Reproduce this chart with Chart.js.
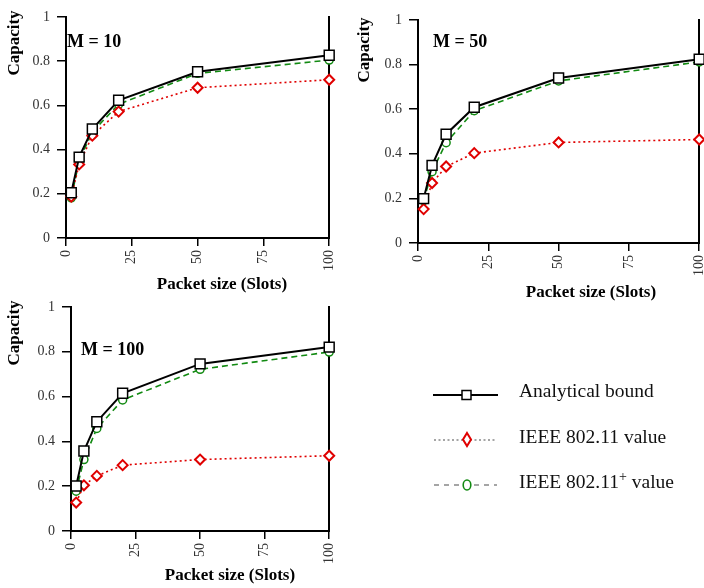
<!DOCTYPE html>
<html>
<head>
<meta charset="utf-8">
<script src="https://cdn.jsdelivr.net/npm/chart.js@4"></script>
<style>
  html, body { margin: 0; padding: 0; background: #fff; overflow: hidden; }
  #wrap { position: relative; width: 704px; height: 588px; overflow: hidden; }
  canvas { position: absolute; }
  #legend { position: absolute; left: 0; top: 0; width: 704px; height: 588px; pointer-events: none; }
  .lg { position: absolute; left: 519px; font: 19.5px "Liberation Serif", "Times New Roman", serif; color: #111; line-height: 20px; }
  .lg sup { font-size: 14px; line-height: 0; vertical-align: 7px; }
</style>
</head>
<body>
<div id="wrap">
  <canvas id="c10" width="350" height="300" style="left:0;top:0"></canvas>
  <canvas id="c50" width="370" height="310" style="left:350px;top:0"></canvas>
  <canvas id="c100" width="350" height="298" style="left:0;top:290px"></canvas>
  <svg id="legend" width="704" height="588">
    <line x1="433" y1="395" x2="498" y2="395" stroke="#000" stroke-width="2"/>
    <rect x="462" y="390.5" width="9" height="9" fill="#fff" stroke="#000" stroke-width="1.5"/>
    <line x1="434" y1="440" x2="497" y2="440" stroke="#888" stroke-width="1.3" stroke-dasharray="2,2.5"/>
    <polygon points="467,433 471,439.5 467,446 463,439.5" fill="#fff" stroke="#e00000" stroke-width="2"/>
    <line x1="434" y1="485" x2="497" y2="485" stroke="#888" stroke-width="1.3" stroke-dasharray="5,5"/>
    <ellipse cx="467" cy="485" rx="3.8" ry="5" fill="#fff" stroke="#128a12" stroke-width="1.6"/>
  </svg>
  <div class="lg" style="top:381px">Analytical bound</div>
  <div class="lg" style="top:427px">IEEE 802.11 value</div>
  <div class="lg" style="top:472px">IEEE 802.11<sup>+</sup> value</div>
</div>
<script>
// packet sizes (slots) on the x axis
const packetSizes = [2, 5, 10, 20, 50, 100];
const xTicks = [0, 25, 50, 75, 100];
const yTicks = [0, 0.2, 0.4, 0.6, 0.8, 1];

// M = 10
const analyticalM10 = [0.205, 0.366, 0.493, 0.623, 0.752, 0.827];
const ieeeM10 = [0.187, 0.333, 0.463, 0.572, 0.680, 0.716];
const ieeePlusM10 = [0.182, 0.350, 0.480, 0.605, 0.745, 0.805];

// M = 50
const analyticalM50 = [0.199, 0.348, 0.488, 0.609, 0.740, 0.824];
const ieeeM50 = [0.152, 0.269, 0.343, 0.403, 0.451, 0.464];
const ieeePlusM50 = [0.190, 0.320, 0.450, 0.593, 0.727, 0.812];

// M = 100
const analyticalM100 = [0.201, 0.357, 0.488, 0.615, 0.746, 0.821];
const ieeeM100 = [0.127, 0.204, 0.246, 0.294, 0.319, 0.336];
const ieeePlusM100 = [0.178, 0.319, 0.458, 0.585, 0.722, 0.799];

const serif = '"Liberation Serif", "Times New Roman", serif';

// draws the panel label, y title and x title at fixed spots
const panelText = {
    id: 'panelText',
    afterDraw(chart, args, o) {
        const ctx = chart.ctx;
        ctx.save();
        ctx.fillStyle = '#000';
        ctx.font = 'bold 18px ' + serif;
        ctx.textBaseline = 'middle';
        ctx.textAlign = 'left';
        ctx.fillText(o.label, o.mx, o.my);
        ctx.textAlign = 'center';
        ctx.font = 'bold 17px ' + serif;
        ctx.fillText('Packet size (Slots)', o.xx, o.xy);
        ctx.translate(o.cx, o.cy);
        ctx.rotate(-Math.PI / 2);
        ctx.fillText('Capacity', 0, 0);
        ctx.restore();
    }
};

function xy(vals) {
    return packetSizes.map((x, i) => ({ x: x, y: vals[i] }));
}

function makeChart(id, a, b, c, box, txt) {
    const canvas = document.getElementById(id);
    return new Chart(canvas, {
        type: 'line',
        data: {
            datasets: [{
                label: 'Analytical bound',
                data: xy(a),
                clip: false,
                borderColor: '#000',
                borderWidth: 2,
                pointStyle: 'rect',
                pointRadius: 7,
                pointBackgroundColor: '#fff',
                pointBorderColor: '#000',
                pointBorderWidth: 1.5
            }, {
                label: 'IEEE 802.11 value',
                data: xy(b),
                clip: false,
                borderColor: '#e00000',
                borderWidth: 1.6,
                borderDash: [2, 3],
                pointStyle: 'rectRot',
                pointRadius: 5,
                pointBackgroundColor: '#fff',
                pointBorderColor: '#e00000',
                pointBorderWidth: 2
            }, {
                label: 'IEEE 802.11+ value',
                data: xy(c),
                clip: false,
                borderColor: '#128a12',
                borderWidth: 1.6,
                borderDash: [6, 4],
                pointStyle: 'circle',
                pointRadius: 4,
                pointBackgroundColor: '#fff',
                pointBorderColor: '#128a12',
                pointBorderWidth: 1.5
            }]
        },
        options: {
            responsive: false,
            animation: false,
            layout: { padding: { top: box.top, right: box.right, left: 0, bottom: 0 } },
            plugins: {
                legend: { display: false },
                tooltip: { enabled: false },
                panelText: txt
            },
            scales: {
                x: {
                    type: 'linear',
                    min: 0,
                    max: 100,
                    afterBuildTicks: s => { s.ticks = xTicks.map(v => ({ value: v })); },
                    afterFit: s => { s.height = box.xh; },
                    border: { color: '#000', width: 2 },
                    grid: { drawOnChartArea: false, drawTicks: true, tickLength: 8, color: '#000', lineWidth: 1.5 },
                    ticks: { minRotation: 90, maxRotation: 90, padding: 4, color: '#333', font: { family: serif, size: 14 } }
                },
                y: {
                    min: 0,
                    max: 1,
                    afterBuildTicks: s => { s.ticks = yTicks.map(v => ({ value: v })); },
                    afterFit: s => { s.width = box.left; },
                    border: { color: '#000', width: 2 },
                    grid: { drawOnChartArea: false, drawTicks: true, tickLength: 9, color: '#000', lineWidth: 1.5 },
                    ticks: {
                        padding: 7,
                        color: '#333',
                        font: { family: serif, size: 14 },
                        callback: v => String(Math.round(v * 10) / 10)
                    }
                },
                y2: {
                    position: 'right',
                    min: 0,
                    max: 1,
                    afterFit: s => { s.width = 0; },
                    border: { color: '#000', width: 2 },
                    grid: { display: false },
                    ticks: { display: false }
                }
            }
        },
        plugins: [panelText]
    });
}

makeChart('c10', analyticalM10, ieeeM10, ieeePlusM10,
    { left: 66, top: 17, right: 20, xh: 62 },
    { label: 'M = 10', mx: 67, my: 42, cx: 15, cy: 43, xx: 222, xy: 285 });

makeChart('c50', analyticalM50, ieeeM50, ieeePlusM50,
    { left: 68, top: 20, right: 20, xh: 67 },
    { label: 'M = 50', mx: 83, my: 42, cx: 15, cy: 50, xx: 241, xy: 293 });

makeChart('c100', analyticalM100, ieeeM100, ieeePlusM100,
    { left: 71, top: 17, right: 20, xh: 57 },
    { label: 'M = 100', mx: 81, my: 60, cx: 15, cy: 43, xx: 230, xy: 286 });
</script>
</body>
</html>
